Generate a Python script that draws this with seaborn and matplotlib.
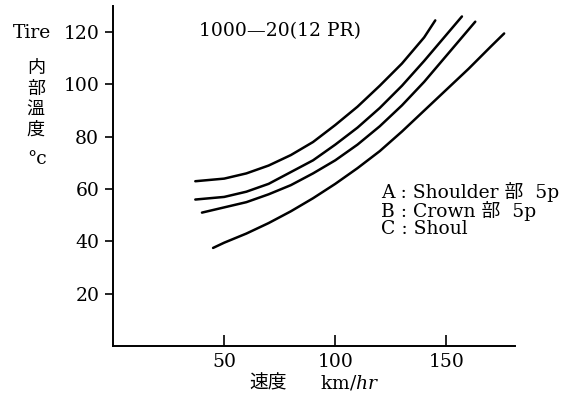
import matplotlib
matplotlib.use("Agg")
import matplotlib.pyplot as plt
import pandas as pd
import seaborn as sns

# Curves (speed km/hr, inner temperature °C)
speed_1 = [37, 50, 60, 70, 80, 90, 100, 110, 120, 130, 140, 145]
temp_1 = [63, 64, 66, 69, 73, 78, 84.5, 91.5, 99.5, 108, 118, 124.5]

speed_2 = [37, 50, 60, 70, 80, 90, 100, 110, 120, 130, 140, 150, 157]
temp_2 = [56, 57, 59, 62, 66.5, 71, 77, 83.5, 91, 99.5, 109, 119, 126]

speed_3 = [40, 50, 60, 70, 80, 90, 100, 110, 120, 130, 140, 150, 160, 163]
temp_3 = [51, 53, 55, 58, 61.5, 66, 71, 77, 84, 92, 101, 111, 121, 124]

speed_4 = [45, 50, 60, 70, 80, 90, 100, 110, 120, 130, 140, 150, 160, 170, 176]
temp_4 = [37.5, 39.5, 43, 47, 51.5, 56.5, 62, 68, 74.5, 82, 90, 98, 106, 114.5, 119.5]

x_ticks = [50, 100, 150]
y_ticks = [20, 40, 60, 80, 100, 120]

title = "1000—20(12 PR)"
notes = ["A : Shoulder 部  5p", "B : Crown 部  5p", "C : Shoul"]

curves = [(speed_1, temp_1), (speed_2, temp_2), (speed_3, temp_3), (speed_4, temp_4)]
frames = []
for i, (sp, tp) in enumerate(curves):
    frames.append(pd.DataFrame({"speed": sp, "temp": tp, "curve": i}))
data = pd.concat(frames, ignore_index=True)

sns.set_style("ticks")
fonts = ["DejaVu Serif", "Noto Sans CJK JP"]
plt.rcParams["font.family"] = fonts
plt.rcParams["mathtext.fontset"] = "dejavuserif"
plt.rcParams["text.color"] = "black"
plt.rcParams["axes.edgecolor"] = "black"
plt.rcParams["xtick.color"] = "black"
plt.rcParams["ytick.color"] = "black"

cjk = ["Noto Sans CJK JP", "DejaVu Serif"]
fs = 13.5

fig = plt.figure(figsize=(5.77, 4.0), dpi=100)
ax = fig.add_axes([0.196, 0.135, 0.697, 0.85])

for i in range(4):
    sns.lineplot(data=data[data["curve"] == i], x="speed", y="temp",
                 color="black", linewidth=1.8, ax=ax)

ax.set_xlim(0, 181)
ax.set_ylim(0, 130)
ax.set_xticks(x_ticks)
ax.set_yticks(y_ticks)
ax.set(xlabel=None, ylabel=None)
sns.despine(ax=ax)
ax.spines["left"].set_linewidth(1.4)
ax.spines["bottom"].set_linewidth(1.4)
ax.tick_params(axis="x", direction="in", length=8, width=1.2, pad=5, labelsize=fs)
ax.tick_params(axis="y", direction="out", length=6, width=1.2, pad=4, labelsize=fs)

ax.text(38.5, 120.5, title, fontsize=fs, va="center", ha="left")
for j, note in enumerate(notes):
    ax.text(120.5, 58.7 - j * 7, note, fontsize=fs, va="center", ha="left")

# axis labels
fig.text(0.055, 1 - 33 / 400, "Tire", fontsize=fs, ha="center", va="center")
for k, ch in enumerate(["内", "部", "溫", "度"]):
    fig.text(0.062, 1 - (68 + k * 20.5) / 400, ch, fontsize=13,
             ha="center", va="center", family=cjk)
fig.text(0.064, 1 - 159 / 400, "°c", fontsize=fs, ha="center", va="center")
fig.text(0.433, 1 - 383 / 400, "速度", fontsize=13.5, ha="left", va="center",
         family=cjk)
fig.text(0.555, 1 - 383 / 400, r"km/$\it{hr}$", fontsize=fs, ha="left", va="center")

fig.savefig("out.png", dpi=100)
